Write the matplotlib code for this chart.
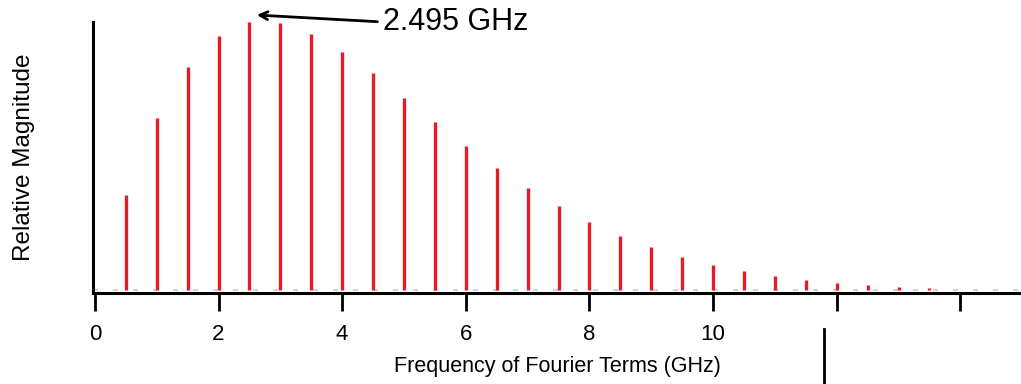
import numpy as np
import matplotlib
matplotlib.use("Agg")
import matplotlib.pyplot as plt
import matplotlib.transforms as mtransforms

# Fourier term frequencies (GHz) and their relative magnitudes
freqs = [0.5, 1.0, 1.5, 2.0, 2.5, 3.0, 3.5, 4.0, 4.5, 5.0, 5.5, 6.0, 6.5, 7.0,
         7.5, 8.0, 8.5, 9.0, 9.5, 10.0, 10.5, 11.0, 11.5, 12.0, 12.5, 13.0, 13.5]
mags = [0.354, 0.642, 0.832, 0.948, 1.000, 0.996, 0.955, 0.888, 0.810, 0.716,
        0.627, 0.537, 0.455, 0.381, 0.313, 0.254, 0.201, 0.160, 0.123, 0.093,
        0.071, 0.052, 0.037, 0.026, 0.019, 0.011, 0.007]

xticks = [0, 2, 4, 6, 8, 10, 12, 14]
xtick_labels = ["0", "2", "4", "6", "8", "10", "", ""]

peak_label = "2.495 GHz"
peak_freq = 2.62
marker_x = 11.8   # stray vertical mark below the axis

plt.rcParams['font.family'] = ['Liberation Sans', 'DejaVu Sans']

fig = plt.figure(figsize=(10.21, 3.84), dpi=100)
ax = fig.add_axes([0.0911, 0.237, 0.9089, 0.7057])

ax.axhline(0, color="#cccccc", lw=1.2, ls=(0, (3, 9)), zorder=1)
ax.vlines(freqs, 0, mags, color="#e41e26", lw=2.4, zorder=2)

ax.set_xlim(-0.03, 14.98)
ax.set_ylim(-0.011, 1.0)

for side in ["top", "right"]:
    ax.spines[side].set_visible(False)
for side in ["left", "bottom"]:
    ax.spines[side].set_linewidth(2.2)
    ax.spines[side].set_color("black")

ax.set_xticks(xticks)
ax.set_xticklabels(xtick_labels)
ax.set_yticks([])
ax.tick_params(axis="x", direction="out", length=13, width=2, pad=9.5,
               labelsize=16, color="black")

ax.set_xlabel("Frequency of Fourier Terms (GHz)", fontsize=15.5, labelpad=8)
ax.set_ylabel("Relative Magnitude", fontsize=17.5, labelpad=42)

ax.annotate(peak_label, xy=(peak_freq, 1.026), xytext=(4.66, 1.0),
            ha="left", va="center", fontsize=22, annotation_clip=False,
            arrowprops=dict(arrowstyle="->", color="black", lw=2,
                            relpos=(0, 0.5), shrinkA=2, shrinkB=0,
                            mutation_scale=14))

trans = mtransforms.blended_transform_factory(ax.transData, ax.transAxes)
ax.plot([marker_x, marker_x], [-0.133, -0.34], color="black", lw=2,
        transform=trans, clip_on=False)

fig.savefig("out.png", dpi=100)
